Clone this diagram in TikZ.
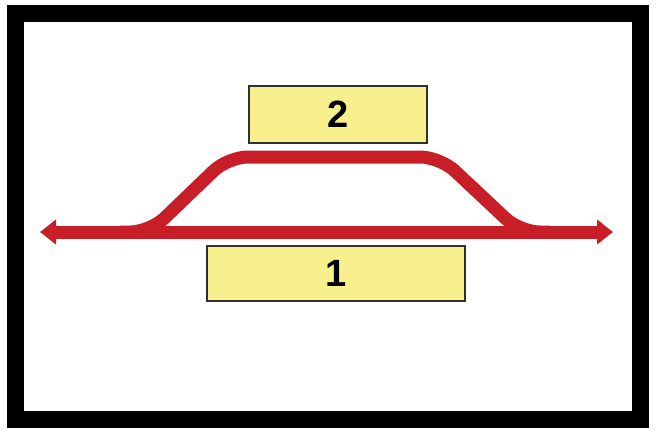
\documentclass[tikz,border=0pt]{standalone}
\usepackage{fontspec}
\setmainfont{Liberation Sans}
\usetikzlibrary{arrows.meta}
\definecolor{trackred}{HTML}{C71E28}
\definecolor{boxyellow}{HTML}{F8F08C}
\definecolor{boxedge}{HTML}{303030}
\tikzset{
  numbox/.style={draw=boxedge, line width=1.5pt, fill=boxyellow, inner sep=0pt,
    font=\fontsize{38}{40}\selectfont\bfseries, text=black},
  track/.style={draw=trackred, line width=13pt},
  frame/.style={draw=black, line width=17pt}
}
\begin{document}
\begin{tikzpicture}[x=1pt,y=-1pt]
\useasboundingbox (0,0) rectangle (664,434);
\draw[frame] (15,13) rectangle (640,419);
% track 2 (siding)
\draw[track, rounded corners=20pt, line join=round] (120,232) -- (150,232) -- (228,157) -- (440,157) -- (520,232) -- (550,232);
% track 1 (main line)
\coordinate (w) at (40,232);
\coordinate (e) at (613,232);
\draw[track, {Triangle[length=16pt,width=24pt]}-{Triangle[length=16pt,width=24pt]}] (w) -- (e);
\node[numbox, minimum width=178pt, minimum height=57pt] (b2) at (338,114.5) {2};
\node[numbox, minimum width=258pt, minimum height=55pt] (b1) at (336,273.5) {1};
\end{tikzpicture}
\end{document}
